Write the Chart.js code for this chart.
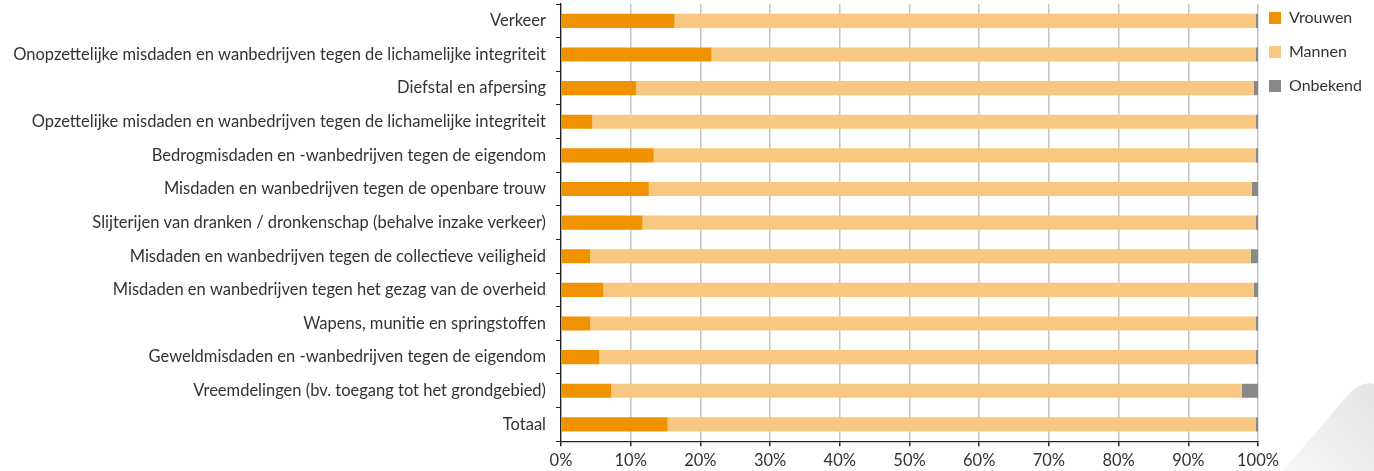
<!DOCTYPE html>
<html>
<head>
<meta charset="utf-8">
<script src="https://cdn.jsdelivr.net/npm/chart.js@4/dist/chart.umd.min.js"></script>
<style>
  html, body { margin: 0; padding: 0; background: #fff; }
  #wrap { width: 1374px; height: 471px; position: relative; }
</style>
</head>
<body>
<div id="wrap"><canvas id="chart"></canvas></div>
<script>
const categories = [
    'Verkeer',
    'Onopzettelijke misdaden en wanbedrijven tegen de lichamelijke integriteit',
    'Diefstal en afpersing',
    'Opzettelijke misdaden en wanbedrijven tegen de lichamelijke integriteit',
    'Bedrogmisdaden en -wanbedrijven tegen de eigendom',
    'Misdaden en wanbedrijven tegen de openbare trouw',
    'Slijterijen van dranken / dronkenschap (behalve inzake verkeer)',
    'Misdaden en wanbedrijven tegen de collectieve veiligheid',
    'Misdaden en wanbedrijven tegen het gezag van de overheid',
    'Wapens, munitie en springstoffen',
    'Geweldmisdaden en -wanbedrijven tegen de eigendom',
    'Vreemdelingen (bv. toegang tot het grondgebied)',
    'Totaal'
];

// percentages
const vrouwen  = [16.3, 21.6, 10.8, 4.5, 13.3, 12.6, 11.7, 4.2, 6.1, 4.2, 5.5, 7.2, 15.3];
const onbekend = [0.35, 0.3, 0.6, 0.3, 0.3, 0.9, 0.3, 1.05, 0.6, 0.3, 0.3, 2.35, 0.3];
const mannen   = [83.35, 78.1, 88.6, 95.2, 86.4, 86.5, 88.0, 94.75, 93.3, 95.5, 94.2, 90.45, 84.4];

const xTicks = [0, 10, 20, 30, 40, 50, 60, 70, 80, 90, 100];

const fontFamily = 'Lato, "Open Sans", sans-serif';
const textColor = '#333333';

// light grey page decoration in the bottom right corner
const cornerShape = {
    id: 'cornerShape',
    beforeDraw(chart) {
        const c = chart.ctx;
        const g = c.createLinearGradient(1300, 471, 1374, 400);
        g.addColorStop(0, '#f5f5f5');
        g.addColorStop(1, '#e6e6e6');
        c.save();
        c.fillStyle = g;
        c.beginPath();
        c.moveTo(1283, 471);
        c.lineTo(1348, 395);
        c.quadraticCurveTo(1362, 380, 1374, 384);
        c.lineTo(1374, 471);
        c.closePath();
        c.fill();
        c.restore();
    }
};

// put the legend where the original has it
const legendShift = {
    id: 'legendShift',
    afterLayout(chart) {
        chart.legend.top -= 12;
        chart.legend.left -= 7;
    }
};

const ctx = document.getElementById('chart').getContext('2d');

new Chart(ctx, {
    type: 'bar',
    data: {
        labels: categories,
        datasets: [
            { label: 'Vrouwen', data: vrouwen, backgroundColor: '#F09100' },
            { label: 'Mannen', data: mannen, backgroundColor: '#F8C880' },
            { label: 'Onbekend', data: onbekend, backgroundColor: '#888888' }
        ]
    },
    options: {
        indexAxis: 'y',
        responsive: true,
        maintainAspectRatio: false,
        animation: false,
        layout: { padding: { left: 10, right: -5, top: 4, bottom: -5 } },
        datasets: {
            bar: { categoryPercentage: 1, barPercentage: 0.42 }
        },
        scales: {
            x: {
                stacked: true,
                min: 0,
                max: 100,
                afterBuildTicks: axis => { axis.ticks = xTicks.map(v => ({ value: v })); },
                afterFit: axis => { axis.paddingLeft = 0; axis.paddingRight = 0; },
                grid: {
                    color: '#c4c4c4',
                    lineWidth: 1.5,
                    tickColor: '#222',
                    tickLength: 5
                },
                border: { color: '#222', width: 1.3 },
                ticks: {
                    color: textColor,
                    font: { family: fontFamily, size: 16.5 },
                    padding: 5,
                    callback: v => v + '%'
                }
            },
            y: {
                stacked: true,
                afterFit: axis => {
                    axis.width = 551;
                    axis.paddingTop = 0;
                    axis.paddingBottom = 0;
                },
                grid: {
                    drawOnChartArea: false,
                    tickColor: '#222',
                    tickLength: 5
                },
                border: { color: '#222', width: 1.3 },
                ticks: {
                    color: textColor,
                    font: { family: fontFamily, size: 16.5 },
                    padding: 10
                }
            }
        },
        plugins: {
            legend: {
                position: 'right',
                align: 'start',
                labels: {
                    boxWidth: 12,
                    boxHeight: 12,
                    padding: 18,
                    color: textColor,
                    font: { family: fontFamily, size: 16 }
                }
            },
            tooltip: { enabled: false }
        }
    },
    plugins: [cornerShape, legendShift]
});
</script>
</body>
</html>
